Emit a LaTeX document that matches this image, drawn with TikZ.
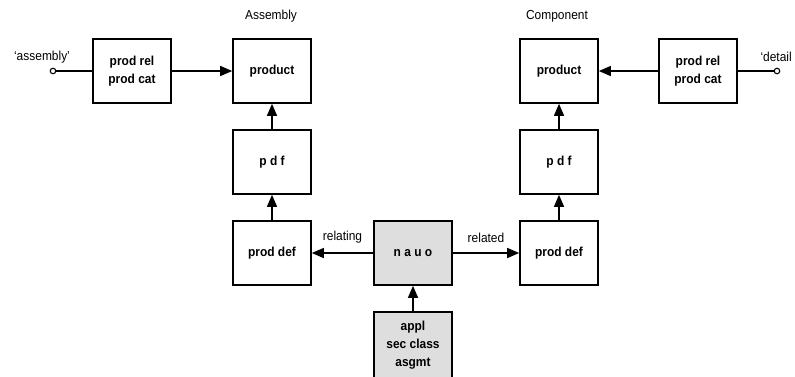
\documentclass[tikz,border=0pt]{standalone}
\usepackage{fontspec}
\setmainfont{Liberation Sans}[FakeStretch=0.92]
\usetikzlibrary{shapes,arrows.meta}
\definecolor{boxgray}{rgb}{0.87,0.87,0.87}

\begin{document}
\begin{tikzpicture}[x=1pt,y=-1pt,
  blk/.style={draw, line width=1.6pt, minimum width=78pt, minimum height=64pt, inner sep=0pt, align=center, font=\fontsize{13}{18}\selectfont\bfseries},
  gblk/.style={blk, fill=boxgray},
  conn/.style={line width=1.3pt, -{Triangle[length=12pt,width=10pt]}},
  lbl/.style={font=\fontsize{13}{15}\selectfont},
  port/.style={circle, draw, fill=white, line width=1.1pt, inner sep=0pt, minimum size=5.5pt}]
\clip (0,0) rectangle (795,376);
% assembly side
\node[blk] (relA) at (132,71) {prod rel\\prod cat};
\node[blk] (prodA) at (272,71) {product};
\node[blk] (pdfA) at (272,162) {p d f};
\node[blk] (defA) at (272,253) {prod def};
% middle
\node[gblk] (nauo) at (413,253) {n a u o};
\node[gblk, minimum height=66pt] (appl) at (413,345) {appl\\sec class\\asgmt};
% component side
\node[blk] (defC) at (559,253) {prod def};
\node[blk] (pdfC) at (559,162) {p d f};
\node[blk] (prodC) at (559,71) {product};
\node[blk] (relC) at (698,71) {prod rel\\prod cat};
% ports and titles
\node[port] (portA) at (53,71) {};
\node[port] (portC) at (777,71) {};
\node[lbl] (nameA) at (271,16) {Assembly};
\node[lbl] (nameC) at (557,16) {Component};
\node[lbl] (tagA) at (42,57) {‘assembly’};
\node[lbl, anchor=west] (tagC) at (757,57) {‘detail};
\draw[line width=1.3pt] (portA) -- (relA);
\draw[line width=1.3pt] (portC) -- (relC);
\draw[conn] (relA) -- (prodA);
\draw[conn] (relC) -- (prodC);
\draw[conn] (pdfA) -- (prodA);
\draw[conn] (pdfC) -- (prodC);
\draw[conn] (defA) -- (pdfA);
\draw[conn] (defC) -- (pdfC);
\draw[conn] (nauo) -- node[lbl, above=6pt] {relating} (defA);
\draw[conn] (nauo) -- node[lbl, above=6pt] {related} (defC);
\draw[conn] (appl) -- (nauo);
\end{tikzpicture}
\end{document}
